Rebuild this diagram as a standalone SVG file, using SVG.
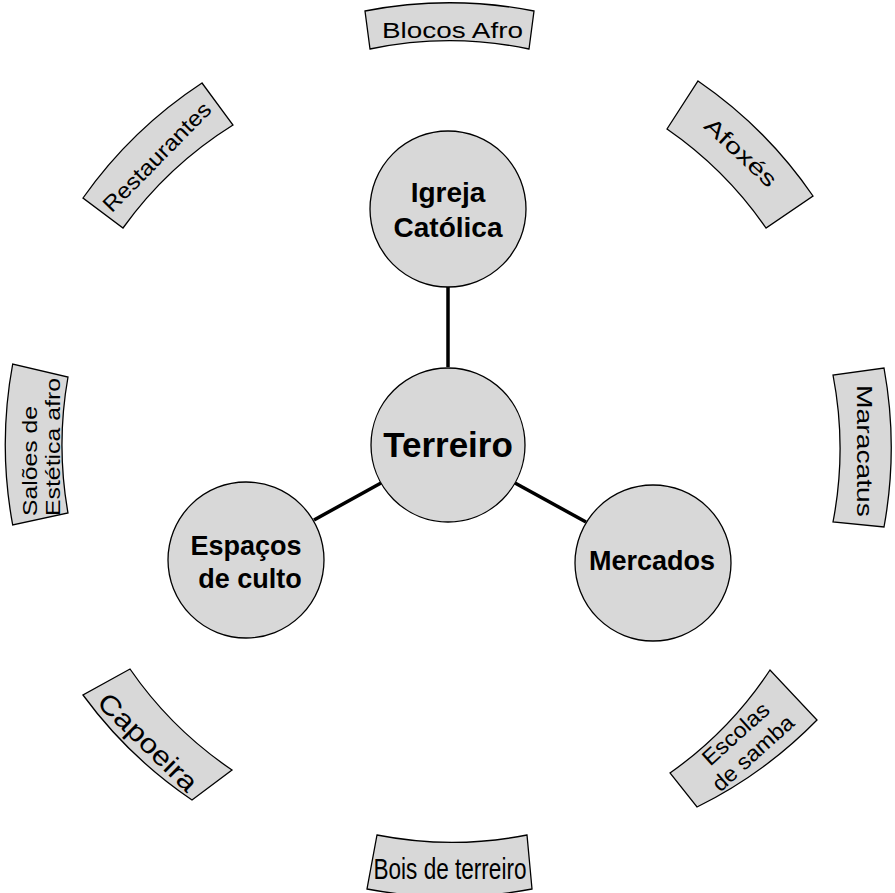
<svg xmlns="http://www.w3.org/2000/svg" width="895" height="893" viewBox="0 0 895 893">
<style>
.shape{fill:#d8d8d8;stroke:#000;stroke-width:1.3}
.lbl{font-family:"Liberation Sans",Arial,sans-serif;fill:#000}
.node{font-family:"Liberation Sans",Arial,sans-serif;font-weight:bold;fill:#000;text-anchor:middle}
.conn{stroke:#000;stroke-width:3.5;fill:none}
</style>
<rect width="895" height="893" fill="#fff"/>
<g id="connectors">
<line class="conn" x1="448" y1="287" x2="448" y2="367"/>
<line class="conn" x1="381" y1="483" x2="314" y2="520"/>
<line class="conn" x1="515" y1="483" x2="586" y2="522"/>
</g>
<g id="blocos-afro">
<path class="shape" d="M365,11 A442,442 0 0 1 534,11 L529,49 A388,388 0 0 0 370,49 Z"/>
<text class="lbl" x="452.5" y="37.5" font-size="22" text-anchor="middle" textLength="141" lengthAdjust="spacingAndGlyphs">Blocos Afro</text>
</g>
<g id="afoxes">
<path class="shape" d="M698,81 A442,442 0 0 1 813,196 L766,228 A388,388 0 0 0 667,129 Z"/>
<text class="lbl" transform="translate(741,152) rotate(43)" x="0" y="8" font-size="22" text-anchor="middle" textLength="90" lengthAdjust="spacingAndGlyphs">Afoxés</text>
</g>
<g id="maracatus">
<path class="shape" d="M884,368 A442,442 0 0 1 884,527 L833,522 A388,388 0 0 0 833,375 Z"/>
<text class="lbl" transform="translate(865,451) rotate(90)" x="0" y="8" font-size="22" text-anchor="middle" textLength="132" lengthAdjust="spacingAndGlyphs">Maracatus</text>
</g>
<g id="escolas-de-samba">
<path class="shape" d="M817,720 A442,442 0 0 1 697,807 L670,773 A388,388 0 0 0 770,670 Z"/>
<g transform="translate(744,743) rotate(-42)">
<text class="lbl" x="0" y="-5" font-size="22" text-anchor="middle" textLength="82" lengthAdjust="spacingAndGlyphs">Escolas</text>
<text class="lbl" x="0" y="21" font-size="22" text-anchor="middle" textLength="102" lengthAdjust="spacingAndGlyphs">de samba</text>
</g>
</g>
<g id="bois-de-terreiro">
<path class="shape" d="M532,889 A442,442 0 0 1 367,889 L377,835 A388,388 0 0 0 527,835 Z"/>
<text class="lbl" x="450" y="879" font-size="29" text-anchor="middle" textLength="153" lengthAdjust="spacingAndGlyphs">Bois de terreiro</text>
</g>
<g id="capoeira">
<path class="shape" d="M192,800 A442,442 0 0 1 83,695 L130,669 A388,388 0 0 0 232,770 Z"/>
<text class="lbl" transform="translate(148,742) rotate(44.5)" x="0" y="9.5" font-size="27" text-anchor="middle" textLength="128" lengthAdjust="spacingAndGlyphs">Capoeira</text>
</g>
<g id="saloes-estetica-afro">
<path class="shape" d="M12.7,525 A442,442 0 0 1 12.7,364 L68,377 A388,388 0 0 0 68,513 Z"/>
<g transform="translate(0,516) rotate(-90)">
<text class="lbl" x="0" y="37" font-size="20" textLength="110" lengthAdjust="spacingAndGlyphs">Salões de</text>
<text class="lbl" x="0" y="60" font-size="20" textLength="138" lengthAdjust="spacingAndGlyphs">Estética afro</text>
</g>
</g>
<g id="restaurantes">
<path class="shape" d="M83,198 A442,442 0 0 1 202,83 L233,125 A388,388 0 0 0 123,228 Z"/>
<text class="lbl" transform="translate(156.5,156.5) rotate(-45.5)" x="0" y="8" font-size="22" text-anchor="middle" textLength="144" lengthAdjust="spacingAndGlyphs">Restaurantes</text>
</g>
<g id="igreja-catolica">
<circle class="shape" cx="448" cy="209" r="78"/>
<text class="node" x="448" y="201.5" font-size="28">Igreja</text>
<text class="node" x="448" y="236.5" font-size="28">Católica</text>
</g>
<g id="terreiro">
<circle class="shape" cx="448" cy="445" r="77"/>
<text class="node" x="448" y="456.5" font-size="35">Terreiro</text>
</g>
<g id="espacos-de-culto">
<circle class="shape" cx="246" cy="560" r="78"/>
<text class="node" x="246" y="555" font-size="27">Espaços</text>
<text class="node" x="250" y="588" font-size="27">de culto</text>
</g>
<g id="mercados">
<circle class="shape" cx="653" cy="563" r="78"/>
<text class="node" x="652" y="570" font-size="27">Mercados</text>
</g>
</svg>
